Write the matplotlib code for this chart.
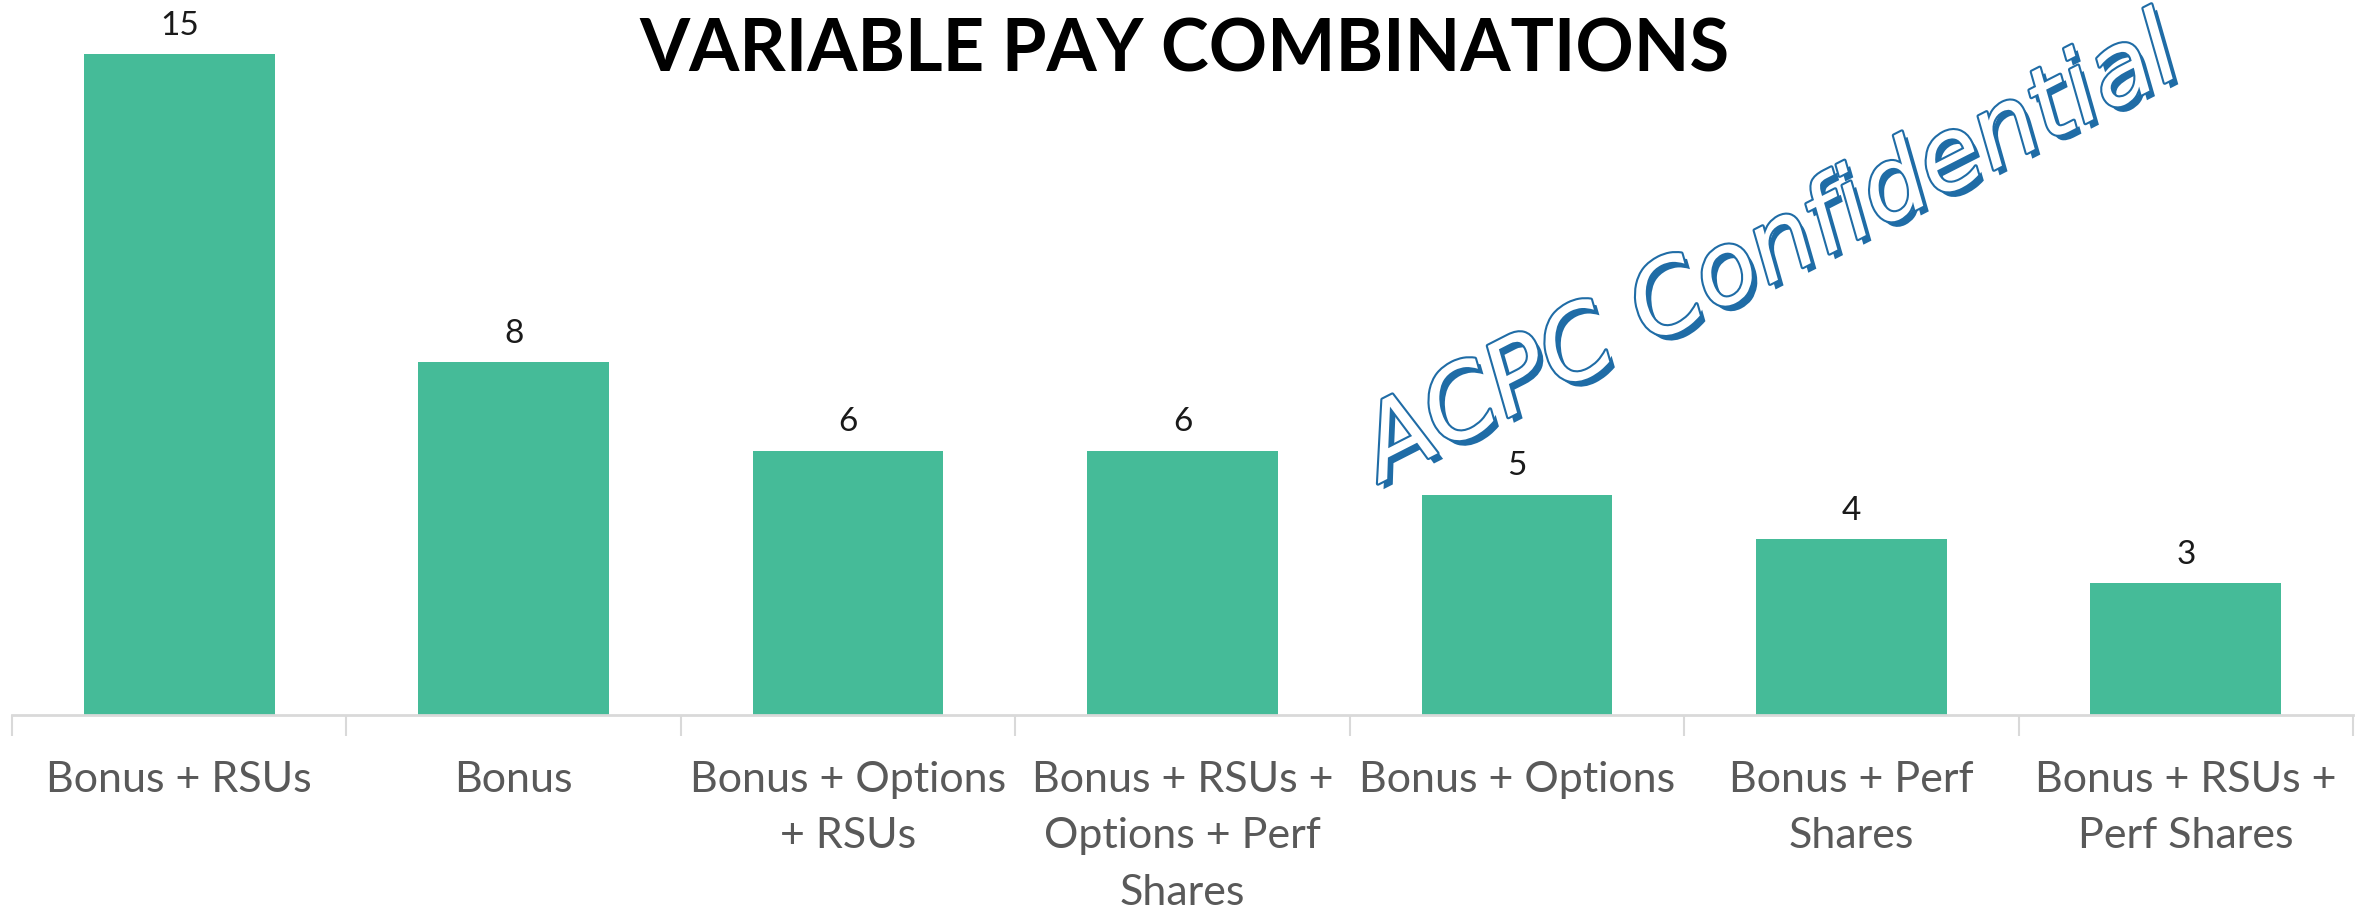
import matplotlib.pyplot as plt
import matplotlib.patheffects as pe
from matplotlib.ticker import FixedLocator

# data
categories = ["Bonus + RSUs", "Bonus", "Bonus + Options\n+ RSUs",
              "Bonus + RSUs +\nOptions + Perf\nShares", "Bonus + Options",
              "Bonus + Perf\nShares", "Bonus + RSUs +\nPerf Shares"]
counts = [15, 8, 6, 6, 5, 4, 3]

W, H = 2369, 919
fig = plt.figure(figsize=(W / 100, H / 100), dpi=100)
ax = fig.add_axes([12 / W, (H - 715) / H, (2353 - 12) / W, (715 - 54) / H])

x = range(len(counts))
bars = ax.bar(x, counts, width=0.57, color='#45BB98', zorder=2)
ax.set_xlim(-0.5, len(counts) - 0.5)
ax.set_ylim(0, 15)

for b, v in zip(bars, counts):
    ax.text(b.get_x() + b.get_width() / 2, v + 0.3, str(v), ha='center', va='bottom',
            fontsize=24, family='Lato', color='#1a1a1a', clip_on=False)

ax.set_xticks(list(x))
ax.set_xticklabels(categories, fontsize=31, family='Lato', color='#595959', linespacing=1.6)
ax.tick_params(axis='x', length=0, pad=33)
ax.xaxis.set_minor_locator(FixedLocator([i - 0.5 for i in range(len(counts) + 1)]))
ax.tick_params(axis='x', which='minor', length=15, width=1.5, color='#D9D9D9')
ax.set_yticks([])
for s in ['top', 'right', 'left']:
    ax.spines[s].set_visible(False)
ax.spines['bottom'].set_color('#D9D9D9')
ax.spines['bottom'].set_linewidth(2)

fig.text(0.5, 0.945, "VARIABLE PAY COMBINATIONS", ha='center', va='center',
         fontsize=52, fontweight='bold', family='Lato', color='black')

# watermark
fig.text(1772 / W, 1 - 252 / H, "ACPC Confidential", ha='center', va='center',
         rotation=27, fontsize=72, family='DejaVu Sans', style='oblique',
         color='white', zorder=5,
         path_effects=[pe.withSimplePatchShadow(offset=(4, -4), shadow_rgbFace='#1F6CA6', alpha=1),
                       pe.withStroke(linewidth=3, foreground='#1F6CA6')])

fig.savefig('out.png', dpi=100)
